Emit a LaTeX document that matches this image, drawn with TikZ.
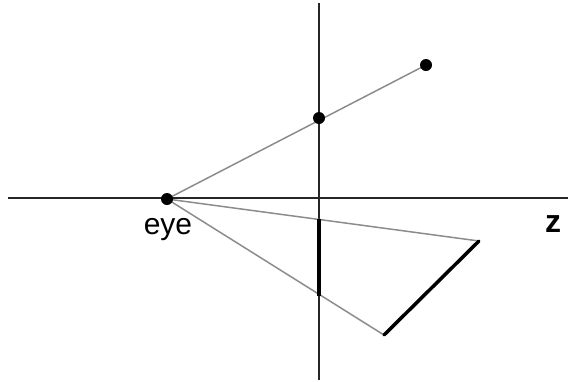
\documentclass[tikz,border=0pt]{standalone}
\usepackage{fontspec}
\setmainfont{Liberation Sans}
\begin{document}
\begin{tikzpicture}[x=1pt,y=-1pt,
  axis/.style={line width=2pt,black!85},
  ray/.style={line width=1.5pt,black!45},
  thick seg/.style={line width=3.5pt,black,line cap=round},
  dot/.style={circle,fill=black,inner sep=0pt,minimum size=12pt},
  lab/.style={inner sep=0pt,font=\fontsize{30}{32}\selectfont}]
\useasboundingbox (0,0) rectangle (568,381);
\coordinate (xl) at (8,197.5);
\coordinate (xr) at (568,197.5);
\coordinate (yt) at (319,3);
\coordinate (yb) at (319,380);
\draw[axis] (xl) -- (xr);
\draw[axis] (yt) -- (yb);
\coordinate (eye) at (167,199);
\coordinate (p1) at (319,118);
\coordinate (p2) at (426,65);
\coordinate (a) at (479,241);
\coordinate (b) at (384,335);
\coordinate (ia) at (319,219);
\coordinate (ib) at (319,296);
\draw[ray] (eye) -- (p2);
\draw[ray] (eye) -- (a);
\draw[ray] (eye) -- (b);
\draw[thick seg] (a) -- (b);
\draw[line width=4pt,black] (ia) -- (ib);
\node[dot] (deye) at (eye) {};
\node[dot] (dp1) at (p1) {};
\node[dot] (dp2) at (p2) {};
\node[lab] (teye) at (168,230) {eye};
\node[lab,font=\fontsize{32}{34}\selectfont\bfseries] (tz) at (553,224) {z};
\end{tikzpicture}
\end{document}
